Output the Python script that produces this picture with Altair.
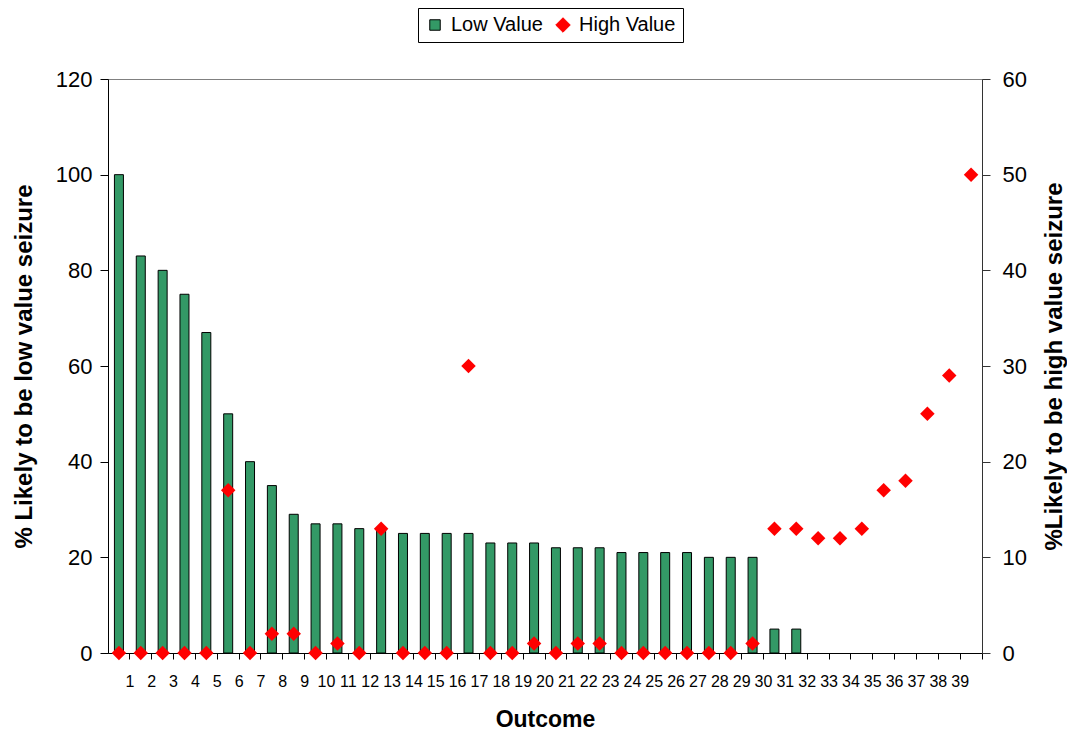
import altair as alt
import pandas as pd

# Outcome categories (40 slots on the category axis)
outcomes = list(range(1, 41))

# % likely to be a low value seizure (bars, left axis) for outcomes 1..32
low_values = [100, 83, 80, 75, 67, 50, 40, 35, 29, 27, 27, 26, 26, 25, 25, 25,
              25, 23, 23, 23, 22, 22, 22, 21, 21, 21, 21, 20, 20, 20, 5, 5]

# % likely to be a high value seizure (diamonds, right axis) for outcomes 1..40
high_values = [0, 0, 0, 0, 0, 17, 0, 2, 2, 0, 1, 0, 13, 0, 0, 0, 30, 0, 0, 1,
               0, 1, 1, 0, 0, 0, 0, 0, 0, 1, 13, 13, 12, 12, 13, 17, 18, 25, 29, 50]

series_names = ["Low Value", "High Value"]
series_colors = ["#339966", "#ff0000"]
series_strokes = ["#000000", "#ff0000"]
series_shapes = ["square", "diamond"]
series_sizes = [110, 210]

low_df = pd.DataFrame({"outcome": outcomes[:len(low_values)],
                       "value": low_values, "series": "Low Value"})
high_df = pd.DataFrame({"outcome": outcomes, "value": high_values,
                        "series": "High Value"})

FONT = "Liberation Sans"
PLOT_W = 874
PLOT_H = 574
HALF_BAND = PLOT_W / len(outcomes) / 2

legend = alt.Legend(
    title=None,
    orient="none",
    legendX=310,
    legendY=-71,
    direction="horizontal",
    strokeColor="black",
    fillColor="white",
    padding=7,
    labelFont=FONT,
    labelFontSize=20,
    labelColor="black",
    labelOffset=6,
    columnPadding=10,
    symbolStrokeWidth=1,
    symbolOpacity=1,
)

color = alt.Color("series:N",
                  scale=alt.Scale(domain=series_names, range=series_colors),
                  legend=legend)
stroke = alt.Stroke("series:N",
                    scale=alt.Scale(domain=series_names, range=series_strokes),
                    legend=legend)
shape = alt.Shape("series:N",
                  scale=alt.Scale(domain=series_names, range=series_shapes),
                  legend=legend)
size = alt.Size("series:N",
                scale=alt.Scale(domain=series_names, range=series_sizes),
                legend=legend)

# Category labels sit on the boundary ticks to the right of each slot
x_enc = alt.X(
    "outcome:O",
    scale=alt.Scale(domain=outcomes, paddingInner=0, paddingOuter=0),
    axis=alt.Axis(
        title="Outcome",
        bandPosition=1,
        labelAngle=0,
        labelOffset=HALF_BAND,
        labelExpr="datum.value == 40 ? '' : datum.label",
        labelOverlap=False,
        labelBound=False,
        labelFlush=False,
        labelFont=FONT,
        labelFontSize=16,
        labelColor="black",
        labelPadding=14,
        tickSize=6,
        tickColor="black",
        domainColor="black",
        titleFont=FONT,
        titleFontSize=23,
        titleFontWeight="bold",
        titleColor="black",
        titleY=66,
        titleBaseline="middle",
        grid=False,
    ),
)

bars = alt.Chart(low_df).mark_bar(size=9, strokeWidth=1).encode(
    x=x_enc,
    y=alt.Y(
        "value:Q",
        scale=alt.Scale(domain=[0, 120], nice=False),
        axis=alt.Axis(
            title="% Likely to be low value seizure",
            values=[0, 20, 40, 60, 80, 100, 120],
            orient="left",
            grid=False,
            tickSize=8,
            tickColor="black",
            domainColor="black",
            labelFont=FONT,
            labelFontSize=22,
            labelColor="black",
            labelPadding=8,
            titleFont=FONT,
            titleFontSize=24,
            titleFontWeight="bold",
            titleColor="black",
            titleX=-84,
            titleY=PLOT_H / 2,
            titleAngle=270,
            titleBaseline="middle",
        ),
    ),
    color=color,
    stroke=stroke,
)

points = alt.Chart(high_df).mark_point(filled=True, opacity=1, strokeWidth=0).encode(
    x=x_enc,
    y=alt.Y(
        "value:Q",
        scale=alt.Scale(domain=[0, 60], nice=False),
        axis=alt.Axis(
            title="%Likely to be high value seizure",
            values=[0, 10, 20, 30, 40, 50, 60],
            orient="right",
            grid=False,
            tickSize=8,
            tickColor="#333333",
            domainColor="#333333",
            labelFont=FONT,
            labelFontSize=22,
            labelColor="black",
            labelPadding=12,
            titleFont=FONT,
            titleFontSize=24,
            titleFontWeight="bold",
            titleColor="black",
            titleX=72,
            titleY=PLOT_H / 2,
            titleAngle=270,
            titleBaseline="middle",
        ),
    ),
    color=color,
    stroke=stroke,
    shape=shape,
    size=size,
)

chart = (
    alt.layer(bars, points)
    .resolve_scale(y="independent")
    .properties(
        width=PLOT_W,
        height=PLOT_H,
        autosize=alt.AutoSizeParams(type="none"),
        padding={"left": 108, "top": 79, "right": 85, "bottom": 79},
        background="white",
    )
    .configure_view(stroke="#808080", strokeWidth=1)
)

chart.save("out.html", embed_options={"renderer": "svg", "actions": False})
